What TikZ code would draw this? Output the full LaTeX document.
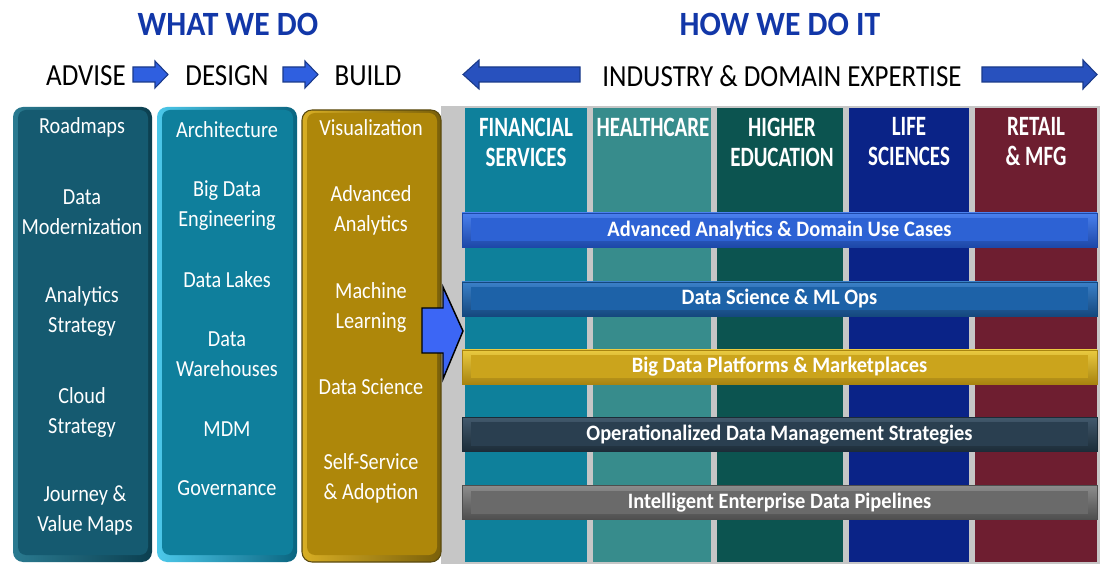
\documentclass[tikz,border=0pt]{standalone}
\usepackage{fontspec}
\setmainfont{Carlito}
\newfontfamily\fA[FakeStretch=0.88]{Carlito}
\newfontfamily\fH[FakeStretch=0.75]{Carlito}
\newfontfamily\fT[FakeStretch=0.93]{Carlito}
\newdimen\px \px=0.75pt
\definecolor{titleblue}{HTML}{1237A8}
\definecolor{arrowblue}{HTML}{2F5FE0}
\definecolor{arrowedge}{HTML}{1A3A8A}
\definecolor{bigarrow}{HTML}{3C66F5}
\definecolor{gapgray}{HTML}{C6C6C6}
% left columns
\definecolor{advL}{HTML}{2A7A90}\definecolor{advR}{HTML}{0B3F50}\definecolor{advM}{HTML}{155A70}
\definecolor{desL}{HTML}{4CC8EA}\definecolor{desR}{HTML}{0A6580}\definecolor{desM}{HTML}{0F7F9C}
\definecolor{bldL}{HTML}{D8AE24}\definecolor{bldR}{HTML}{7A600A}\definecolor{bldM}{HTML}{AE870A}\definecolor{bldE}{HTML}{5A4A10}
% industry columns
\definecolor{finC}{HTML}{0E809B}
\definecolor{hcC}{HTML}{378C8C}
\definecolor{heC}{HTML}{0C5450}
\definecolor{lsC}{HTML}{0A2387}
\definecolor{rtC}{HTML}{6E1E30}
% bands
\definecolor{b1T}{HTML}{4A80EE}\definecolor{b1M}{HTML}{2D62D4}\definecolor{b1B}{HTML}{1D48A8}
\definecolor{b2T}{HTML}{3A80C8}\definecolor{b2M}{HTML}{1D62A8}\definecolor{b2B}{HTML}{15487E}
\definecolor{b3T}{HTML}{EACA40}\definecolor{b3M}{HTML}{CBA41C}\definecolor{b3B}{HTML}{A88410}
\definecolor{b4T}{HTML}{42596C}\definecolor{b4M}{HTML}{2A3F50}\definecolor{b4B}{HTML}{1C2C38}
\definecolor{b5T}{HTML}{8C8C8C}\definecolor{b5M}{HTML}{6A6A6A}\definecolor{b5B}{HTML}{4E4E4E}
\tikzset{
  title/.style={font={\fT\bfseries\fontsize{25.5}{30}\selectfont}, text=titleblue, inner sep=0},
  toplabel/.style={font={\fA\fontsize{23}{28}\selectfont}, text=black, inner sep=0},
  blockarrow/.style={fill=arrowblue, draw=arrowedge, line width=0.8pt, line join=miter},
  colbox/.style n args={3}{rounded corners=7.5pt, inner sep=0, minimum width=139\px, minimum height=455\px,
     left color=#1, right color=#2,
     path picture={\fill[#3, rounded corners=6pt]
       ([xshift=5\px,yshift=7\px]path picture bounding box.south west) rectangle
       ([xshift=-4\px,yshift=-3\px]path picture bounding box.north east);}},
  coltext/.style={font={\fA\fontsize{17.25}{22.5}\selectfont}, text=white, align=center, inner sep=0},
  indcol/.style={fill=#1, inner sep=0, minimum height=454\px},
  header/.style={font={\fH\bfseries\fontsize{21}{22.5}\selectfont}, text=white, align=center, inner sep=0},
  band/.style n args={3}{inner sep=0, minimum width=635\px, minimum height=34\px,
     top color=#1, bottom color=#3, draw=#3, line width=0.4pt,
     font={\fT\bfseries\fontsize{16.5}{20}\selectfont}, text=white,
     path picture={\fill[#2]
       ([xshift=9\px,yshift=6\px]path picture bounding box.south west) rectangle
       ([xshift=-9\px,yshift=-5\px]path picture bounding box.north east);}},
}
\begin{document}
\begin{tikzpicture}[x=0.75pt,y=-0.75pt]
\useasboundingbox (0,0) rectangle (1103,566);
\fill[white] (0,0) rectangle (1103,566);

% titles
\node[title] (what) at (228,24) {WHAT WE DO};
\node[title] (how) at (780,24) {HOW WE DO IT};

% top labels
\node[toplabel] (advise) at (86,76) {ADVISE};
\node[toplabel] (design) at (227,76) {DESIGN};
\node[toplabel] (build) at (368,76) {BUILD};
\node[toplabel] (industry) at (782,76) {INDUSTRY \& DOMAIN EXPERTISE};

% small arrows
\draw[blockarrow] (133,67) -- (155,67) -- (155,61) -- (168,74.5) -- (155,88) -- (155,82) -- (133,82) -- cycle;
\draw[blockarrow] (283,67) -- (305,67) -- (305,61) -- (318,74.5) -- (305,88) -- (305,82) -- (283,82) -- cycle;
% long arrows
\draw[blockarrow, fill=arrowblue!85!black] (580,67) -- (479,67) -- (479,60) -- (463,74.5) -- (479,89) -- (479,82) -- (580,82) -- cycle;
\draw[blockarrow, fill=arrowblue!85!black] (982,67) -- (1083,67) -- (1083,60) -- (1097,74.5) -- (1083,89) -- (1083,82) -- (982,82) -- cycle;

% gray backdrop of the industry panel
\fill[gapgray] (441,106) rectangle (1100,564);

% industry columns
\node[indcol=finC, minimum width=122\px] (fin) at (526,335) {};
\node[indcol=hcC, minimum width=118\px] (hc) at (652,335) {};
\node[indcol=heC, minimum width=126\px] (he) at (780,335) {};
\node[indcol=lsC, minimum width=120\px] (ls) at (909,335) {};
\node[indcol=rtC, minimum width=122\px] (rt) at (1036,335) {};

\node[header] (hfin) at (526,142) {FINANCIAL\\SERVICES};
\node[header] (hhc) at (653,127) {HEALTHCARE};
\node[header] (hhe) at (782,142) {HIGHER\\EDUCATION};
\node[header] (hls) at (909,142) {LIFE\\SCIENCES};
\node[header] (hrt) at (1036,142) {RETAIL\\\& MFG};

% bands
\node[band={b1T}{b1M}{b1B}] (adv) at (779.5,230) {Advanced Analytics \& Domain Use Cases};
\node[band={b2T}{b2M}{b2B}] (dsml) at (779.5,299) {Data Science \& ML Ops};
\node[band={b3T}{b3M}{b3B}] (bigd) at (779.5,367) {Big Data Platforms \& Marketplaces};
\node[band={b4T}{b4M}{b4B}] (oper) at (779.5,434.5) {Operationalized Data Management Strategies};
\node[band={b5T}{b5M}{b5B}] (pipe) at (779.5,502.5) {Intelligent Enterprise Data Pipelines};

% left columns
\node[colbox={advL}{advR}{advM}] (cadv) at (82.5,334.5) {};
\node[colbox={desL}{desR}{desM}, minimum width=140\px] (cdes) at (227,334.5) {};
\node[colbox={bldL}{bldR}{bldM}, minimum height=452\px, draw=bldE, line width=0.8pt] (cbld) at (371.5,336) {};

\node[coltext] (a1) at (82,127) {Roadmaps};
\node[coltext] (a2) at (82,212) {Data\\Modernization};
\node[coltext] (a3) at (82,311) {Analytics\\Strategy};
\node[coltext] (a4) at (82,412) {Cloud\\Strategy};
\node[coltext] (a5) at (85,510) {Journey \&\\Value Maps};

\node[coltext] (d1) at (227,130) {Architecture};
\node[coltext] (d2) at (227,206) {Big Data\\Engineering};
\node[coltext] (d3) at (227,280) {Data Lakes};
\node[coltext] (d4) at (227,354) {Data\\Warehouses};
\node[coltext] (d5) at (227,429) {MDM};
\node[coltext] (d6) at (227,488) {Governance};

\node[coltext] (u1) at (371,128) {Visualization};
\node[coltext] (u2) at (371,210) {Advanced\\Analytics};
\node[coltext] (u3) at (371,307) {Machine\\Learning};
\node[coltext] (u4) at (371,387) {Data Science};
\node[coltext] (u5) at (371,478) {Self-Service\\\& Adoption};

% big arrow into the industry panel
\draw[fill=bigarrow, draw=black, line width=1.1pt, line join=miter]
  (422,308) -- (443,308) -- (443,287) -- (463,331) -- (443,379) -- (443,353) -- (422,353) -- cycle;
\end{tikzpicture}
\end{document}
